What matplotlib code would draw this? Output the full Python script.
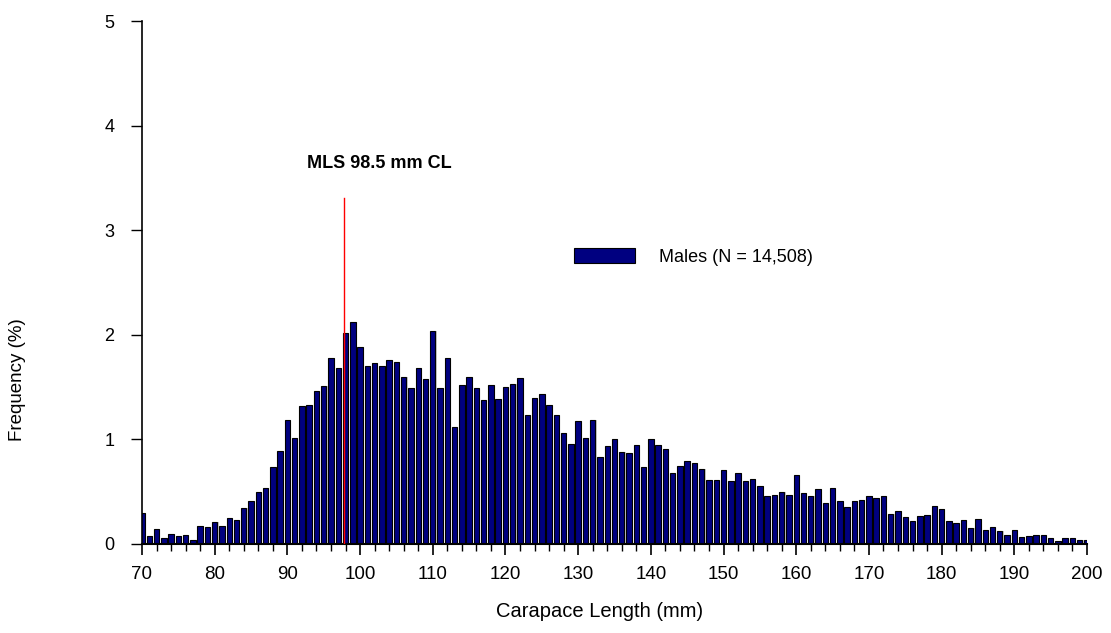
import matplotlib
matplotlib.use("Agg")
import matplotlib.pyplot as plt
import numpy as np
from matplotlib.patches import Patch

plt.rcParams['font.family'] = ['Liberation Sans', 'DejaVu Sans']

# Carapace length classes (mm)
lengths = list(range(70, 201))
# Frequency (%) per 1-mm class
freq = [
    0.30, 0.08, 0.14, 0.06, 0.10, 0.08, 0.09, 0.04, 0.17, 0.16,   # 70-79
    0.21, 0.17, 0.25, 0.23, 0.34, 0.41, 0.50, 0.54, 0.74, 0.89,   # 80-89
    1.19, 1.01, 1.32, 1.33, 1.46, 1.51, 1.78, 1.68, 2.02, 2.12,   # 90-99
    1.88, 1.70, 1.73, 1.70, 1.76, 1.74, 1.60, 1.49, 1.68, 1.58,   # 100-109
    2.04, 1.49, 1.78, 1.12, 1.52, 1.60, 1.49, 1.38, 1.52, 1.39,   # 110-119
    1.50, 1.53, 1.59, 1.23, 1.40, 1.43, 1.33, 1.23, 1.06, 0.96,   # 120-129
    1.18, 1.01, 1.19, 0.83, 0.94, 1.00, 0.88, 0.87, 0.95, 0.74,   # 130-139
    1.00, 0.95, 0.91, 0.68, 0.75, 0.79, 0.77, 0.72, 0.61, 0.61,   # 140-149
    0.71, 0.60, 0.68, 0.60, 0.62, 0.55, 0.46, 0.47, 0.50, 0.47,   # 150-159
    0.66, 0.49, 0.46, 0.53, 0.39, 0.54, 0.41, 0.35, 0.41, 0.42,   # 160-169
    0.46, 0.44, 0.46, 0.29, 0.32, 0.26, 0.22, 0.27, 0.28, 0.36,   # 170-179
    0.33, 0.22, 0.20, 0.23, 0.15, 0.24, 0.13, 0.16, 0.12, 0.09,   # 180-189
    0.13, 0.07, 0.08, 0.09, 0.09, 0.06, 0.03, 0.06, 0.06, 0.04,   # 190-199
    0.04,                                                          # 200
]
mls_x = 97.8
mls_top = 3.31
mls_label = "MLS 98.5 mm CL"
legend_label = "Males (N = 14,508)"
x_ticks = list(range(70, 201, 10))
y_ticks = [0, 1, 2, 3, 4, 5]

fig = plt.figure(figsize=(11.11, 6.33), dpi=100)
ax = fig.add_axes([142/1111, 89/633, (1087-142)/1111, (544-21)/633])

# light shadow behind bars
ax.bar(np.array(lengths) + 0.15, freq, width=0.75, color='#c8c8c8', edgecolor='none', zorder=1)
ax.bar(lengths, freq, width=0.75, color='#000080', edgecolor='black', linewidth=0.8, zorder=2)

ax.plot([mls_x, mls_x], [0, mls_top], color='red', linewidth=1.0, zorder=3)
ax.text(102.7, 3.64, mls_label, fontsize=13, fontweight='bold', ha='center', va='center')

ax.set_xlim(70, 200)
ax.set_ylim(0, 5)
ax.set_xticks(x_ticks)
ax.set_xticks(list(range(70, 201, 2)), minor=True)
ax.set_yticks(y_ticks)
ax.tick_params(axis='x', which='major', length=8, width=1.2, labelsize=13.5, pad=8, direction='out')
ax.tick_params(axis='x', which='minor', length=5, width=1.0, direction='out')
ax.tick_params(axis='y', which='major', length=8, width=1.0, labelsize=13, pad=12, direction='out')

for s in ['top', 'right']:
    ax.spines[s].set_visible(False)
ax.spines['left'].set_linewidth(1.2)
ax.spines['bottom'].set_linewidth(1.5)

fig.text(600/1111, 1 - 617/633, "Carapace Length (mm)", fontsize=14.5, ha='center', va='baseline')
fig.text(18/1111, 1 - 380/633, "Frequency (%)", rotation=90, fontsize=13.5, ha='center', va='center')

handle = Patch(facecolor='#000080', edgecolor='black', linewidth=0.8)
leg = ax.legend([handle], [legend_label], loc='center left',
                frameon=False, fontsize=13, handlelength=3.4, handleheight=0.9,
                handletextpad=1.3, borderpad=0, borderaxespad=0)
leg.set_bbox_to_anchor(((574-142)/(1087-142), (544-257)/(544-21)), transform=ax.transAxes)

fig.savefig("out.png", dpi=100)
